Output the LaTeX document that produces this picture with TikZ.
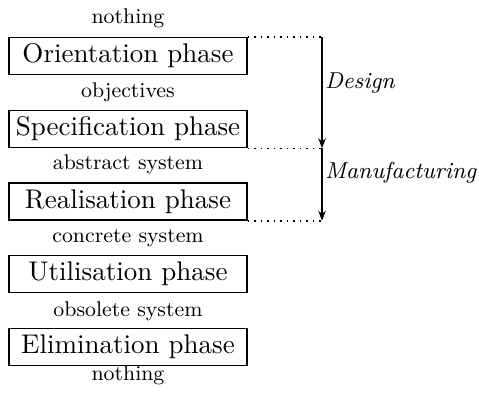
\documentclass[tikz,border=0pt]{standalone}
\usetikzlibrary{arrows.meta}
\tikzset{
  phasebox/.style={draw, line width=0.6pt, minimum width=95.2pt, minimum height=14.8pt,
    inner sep=0pt, font=\fontsize{10.8}{13}\selectfont},
  statelabel/.style={inner sep=0pt, font=\fontsize{8.5}{10}\selectfont},
  stagelabel/.style={anchor=west, inner sep=0pt, font=\fontsize{9.2}{11}\selectfont\itshape},
  guide/.style={dotted, line width=0.6pt},
  flow/.style={-{Stealth[length=4pt,width=3pt]}, line width=0.6pt},
}
\begin{document}
\begin{tikzpicture}[x=0.4pt,y=-0.4pt]
\useasboundingbox (0,0) rectangle (479,395);

% life-cycle phases
\node[phasebox] (orient) at (128,56)    {Orientation phase};
\node[phasebox] (spec)   at (128,129)   {Specification phase};
\node[phasebox] (real)   at (128,201.5) {Realisation phase};
\node[phasebox] (util)   at (128,274)   {Utilisation phase};
\node[phasebox] (elim)   at (128,347)   {Elimination phase};

% states between the phases
\node[statelabel] (s0) at (128,18)  {nothing};
\node[statelabel] (s1) at (128,92)  {objectives};
\node[statelabel] (s2) at (128,164) {abstract system};
\node[statelabel] (s3) at (128,238) {concrete system};
\node[statelabel] (s4) at (128,311) {obsolete system};
\node[statelabel] (s5) at (128,375) {nothing};

% stage brackets on the right
\coordinate (rail) at (322,0);
\coordinate (dA) at (orient.north east -| rail);
\coordinate (dB) at (spec.south east -| rail);
\coordinate (dC) at (real.south east -| rail);
\draw[guide] (orient.north east) -- (dA);
\draw[guide] (spec.south east) -- (dB);
\draw[guide] (real.south east) -- (dC);
\draw[flow] (dA) -- (dB);
\draw[flow] (dB) -- (dC);

\node[stagelabel] (design) at (324.5,83)  {Design};
\node[stagelabel] (manuf)  at (324.5,173) {Manufacturing};
\end{tikzpicture}
\end{document}
